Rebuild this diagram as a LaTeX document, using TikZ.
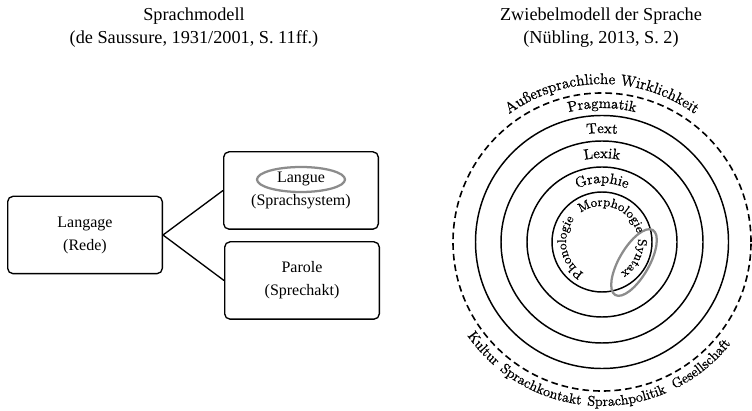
\documentclass[tikz,border=0pt]{standalone}
\usepackage{fontspec}
\usepackage{tikz}
\usetikzlibrary{decorations.text,calc}
\newfontfamily\tnr{Liberation Serif}
\newfontfamily\zwiebel{Latin Modern Roman}[FakeBold=0.8]
\newcommand{\ringtext}[5]{\path[decorate,decoration={text along path,text align=center,
  text={|\zwiebel\fontsize{#4}{#4}\selectfont|#5}}] (O) ++(#2:#1) arc[start angle=#2,end angle=#3,radius=#1];}

\begin{document}
\begin{tikzpicture}[x=0.75pt,y=0.75pt,line width=1pt,
  kasten/.style={draw,rounded corners=4pt,minimum width=116pt,minimum height=58pt,align=center,
    font=\tnr\fontsize{12}{17.25}\selectfont},
  titel/.style={align=center,font=\tnr\fontsize{13.7}{17.25}\selectfont},
  ring/.style={line width=1.1pt},
  markiert/.style={draw=gray!90,line width=1.7pt}]
  \useasboundingbox (0,0) rectangle (752,410);
      \coordinate (O) at (602,168);
         \coordinate (L) at (85,175);
           \coordinate (S) at (301,219.5);
              \coordinate (P) at (302,129.5);
  \node[titel] (titleL) at (194,382) {Sprachmodell\\(de Saussure, 1931/2001, S. 11ff.)};
  \node[titel] (titleR) at (601,382) {Zwiebelmodell der Sprache\\(Nübling, 2013, S. 2)};
     \node[kasten] (langage) at (L) {Langage\\(Rede)};
       \node[kasten] (langue) at (S) {Langue\\(Sprachsystem)};
         \node[kasten] (parole) at (P) {Parole\\(Sprechakt)};
  \draw (langage.east)--(langue.west)(langage.east)--(parole.west);
  \draw[markiert] (301,230.5) ellipse[x radius=44,y radius=12.5];
  % Zwiebel
  \foreach \r in {50,75,101,126.5} \draw[ring] (O) circle[radius=\r];
  \draw[line width=1.2pt,dash pattern=on 5pt off 3pt] (O) circle[radius=149];
  \draw[markiert] ($(O)+(32,-20.5)$) ellipse[x radius=37.5,y radius=15,rotate=60];
  \ringtext{158}{150}{30}{11.5}{Außersprachliche Wirklichkeit}
  \ringtext{134}{140}{40}{11}{Pragmatik}
  \ringtext{109}{130}{50}{11}{Text}
  \ringtext{84}{135}{45}{11}{Lexik}
  \ringtext{59}{140}{40}{11}{Graphie}
  \ringtext{36}{160}{-20}{9.5}{Morphologie}
  \ringtext{36}{280}{100}{9.5}{Phonologie}
  \ringtext{36}{63}{-117}{9.5}{Syntax}
  \ringtext{164}{192}{252}{10.5}{Kultur}
  \ringtext{164}{217}{277}{10.5}{Sprachkontakt}
  \ringtext{164}{249}{309}{10.5}{Sprachpolitik}
  \ringtext{164}{279}{339}{10.5}{Gesellschaft}
   \end{tikzpicture}
\end{document}
